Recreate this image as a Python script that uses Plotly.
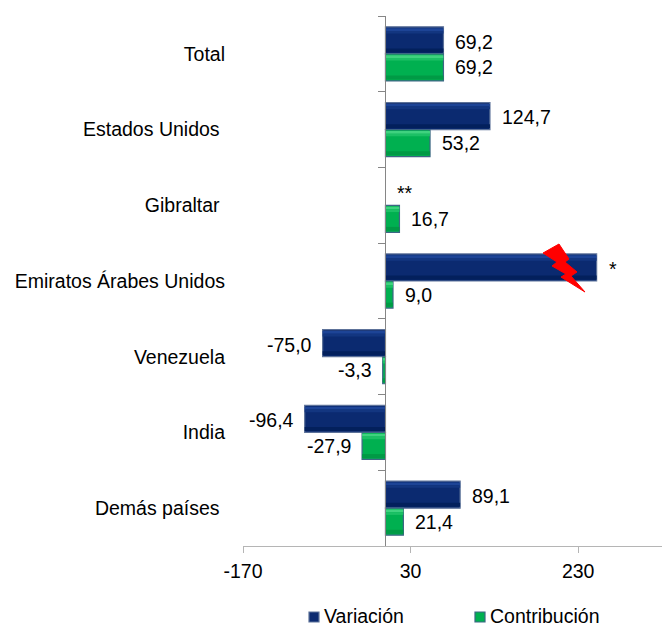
import plotly.graph_objects as go

categories = ["Total", "Estados Unidos\u00a0", "Gibraltar\u00a0", "Emiratos Árabes Unidos", "Venezuela", "India", "Demás países\u00a0"]
variacion = [69.2, 124.7, None, 252.0, -75.0, -96.4, 89.1]
contribucion = [69.2, 53.2, 16.7, 9.0, -3.3, -27.9, 21.4]
series_names = ["Variación", "Contribución"]
tick_vals = [-170, 30, 230]
tick_text = ["-170", "30", "230"]
FONT = "Liberation Sans, Arial, sans-serif"
FS = 19.5
W, H = 663, 627
L, R, T, B = 243, 1, 16, 81
PW, PH = W - L - R, H - T - B
BAR = 0.357
NAVY, NAVY_LINE = "#0b2a70", "#5d7299"
GREEN, GREEN_LINE = "#00b050", "#3d6684"

def px(x): return (x - L) / PW
def py(y): return 1 - (y - T) / PH

fig = go.Figure()
def add_series(name, vals, base_off, body, line, strips):
    fig.add_trace(go.Bar(name=name, y=categories, x=vals, orientation="h", width=BAR, offset=base_off,
                         marker=dict(color=body, line=dict(color=line, width=1.2))))
    for start, height, col in strips:
        fig.add_trace(go.Bar(y=categories, x=vals, orientation="h", width=BAR * height,
                             offset=base_off + BAR * start, hoverinfo="skip",
                             marker=dict(color=col, line=dict(width=0))))

add_series(series_names[0], variacion, -BAR, NAVY, NAVY_LINE,
           [(0.05, 0.10, "#1d4496"), (0.15, 0.10, "#133680"), (0.80, 0.15, "#03205c")])
add_series(series_names[1], contribucion, 0, GREEN, GREEN_LINE,
           [(0.05, 0.10, "#3fd27f"), (0.15, 0.10, "#1cc065"), (0.80, 0.15, "#009a45")])

# zero axis carrying the category tick marks
fig.add_trace(go.Scatter(x=[0] * len(categories), y=categories, yaxis="y2", mode="lines",
                         line=dict(width=0), hoverinfo="skip"))

def fmt(v): return f"{v:.1f}".replace(".", ",")
ann = []
def label(text, x, y, size=FS):
    ann.append(dict(x=x, y=y, xref="x", yref="y", text=text, showarrow=False,
                    xanchor="left" if x >= 0 else "right", xshift=10 if x >= 0 else -9,
                    font=dict(family=FONT, size=size, color="#000000")))
for i, (a, b) in enumerate(zip(variacion, contribucion)):
    if a is not None:
        label("*" if i == 3 else fmt(a), a, i - 0.16)
    label(fmt(b), b, i + 0.18)
label("**", 0, 2 - 0.16)

bolt = [(543, 253), (559, 244), (569, 259), (565, 262), (577, 272), (571, 276), (585, 292),
        (561, 277), (566, 274), (552, 266), (557, 262)]
path = "M" + " L".join(f"{px(x):.4f},{py(y):.4f}" for x, y in bolt) + " Z"
shapes = [dict(type="path", xref="paper", yref="paper", path=path, fillcolor="#ff0000",
               line=dict(color="#ff0000", width=1), layer="above")]

# legend row
for name, sw_x, col, edge in [(series_names[0], 309, NAVY, NAVY_LINE), (series_names[1], 475, GREEN, GREEN_LINE)]:
    shapes.append(dict(type="rect", xref="paper", yref="paper", x0=px(sw_x), x1=px(sw_x + 10),
                       y0=py(622), y1=py(612), fillcolor=col, line=dict(color=edge, width=1.2)))
    ann.append(dict(x=px(sw_x + 12.5), y=py(615.5), xref="paper", yref="paper", text=name, showarrow=False,
                    xanchor="left", yanchor="middle",
                    font=dict(family=FONT, size=FS, color="#000000")))

fig.update_layout(
    width=W, height=H, autosize=False, paper_bgcolor="white", plot_bgcolor="white",
    margin=dict(l=L, r=R, t=T, b=B, pad=0, autoexpand=False), barmode="overlay",
    font=dict(family=FONT, size=FS, color="#000000"),
    xaxis=dict(range=[-170, 330], tickmode="array", tickvals=tick_vals, ticktext=tick_text,
               showgrid=False, zeroline=False, showline=True, linecolor="#b5b5b5", linewidth=1,
               ticks="outside", ticklen=6, tickcolor="#b5b5b5", tickfont=dict(size=FS),
               ticklabelstandoff=2, automargin=False),
    yaxis=dict(type="category", categoryorder="array", categoryarray=categories, range=[6.5, -0.5],
               showgrid=False, zeroline=False, showline=False, ticks="", ticklabelstandoff=17,
               tickfont=dict(size=FS), automargin=False),
    yaxis2=dict(type="category", categoryorder="array", categoryarray=categories, range=[6.5, -0.5],
                overlaying="y", anchor="free", position=(170 / 500), side="left",
                showgrid=False, zeroline=False, showline=True, linecolor="#868686", linewidth=1,
                ticks="outside", ticklen=7, tickcolor="#868686", tickson="boundaries",
                showticklabels=False, automargin=False),
    showlegend=False,
    annotations=ann,
    shapes=shapes,
)
fig.write_html("out.html", default_width=f"{W}px", default_height=f"{H}px",
               config={"displayModeBar": False},
               post_script="document.body.style.margin='0';document.documentElement.style.overflow='hidden';")
